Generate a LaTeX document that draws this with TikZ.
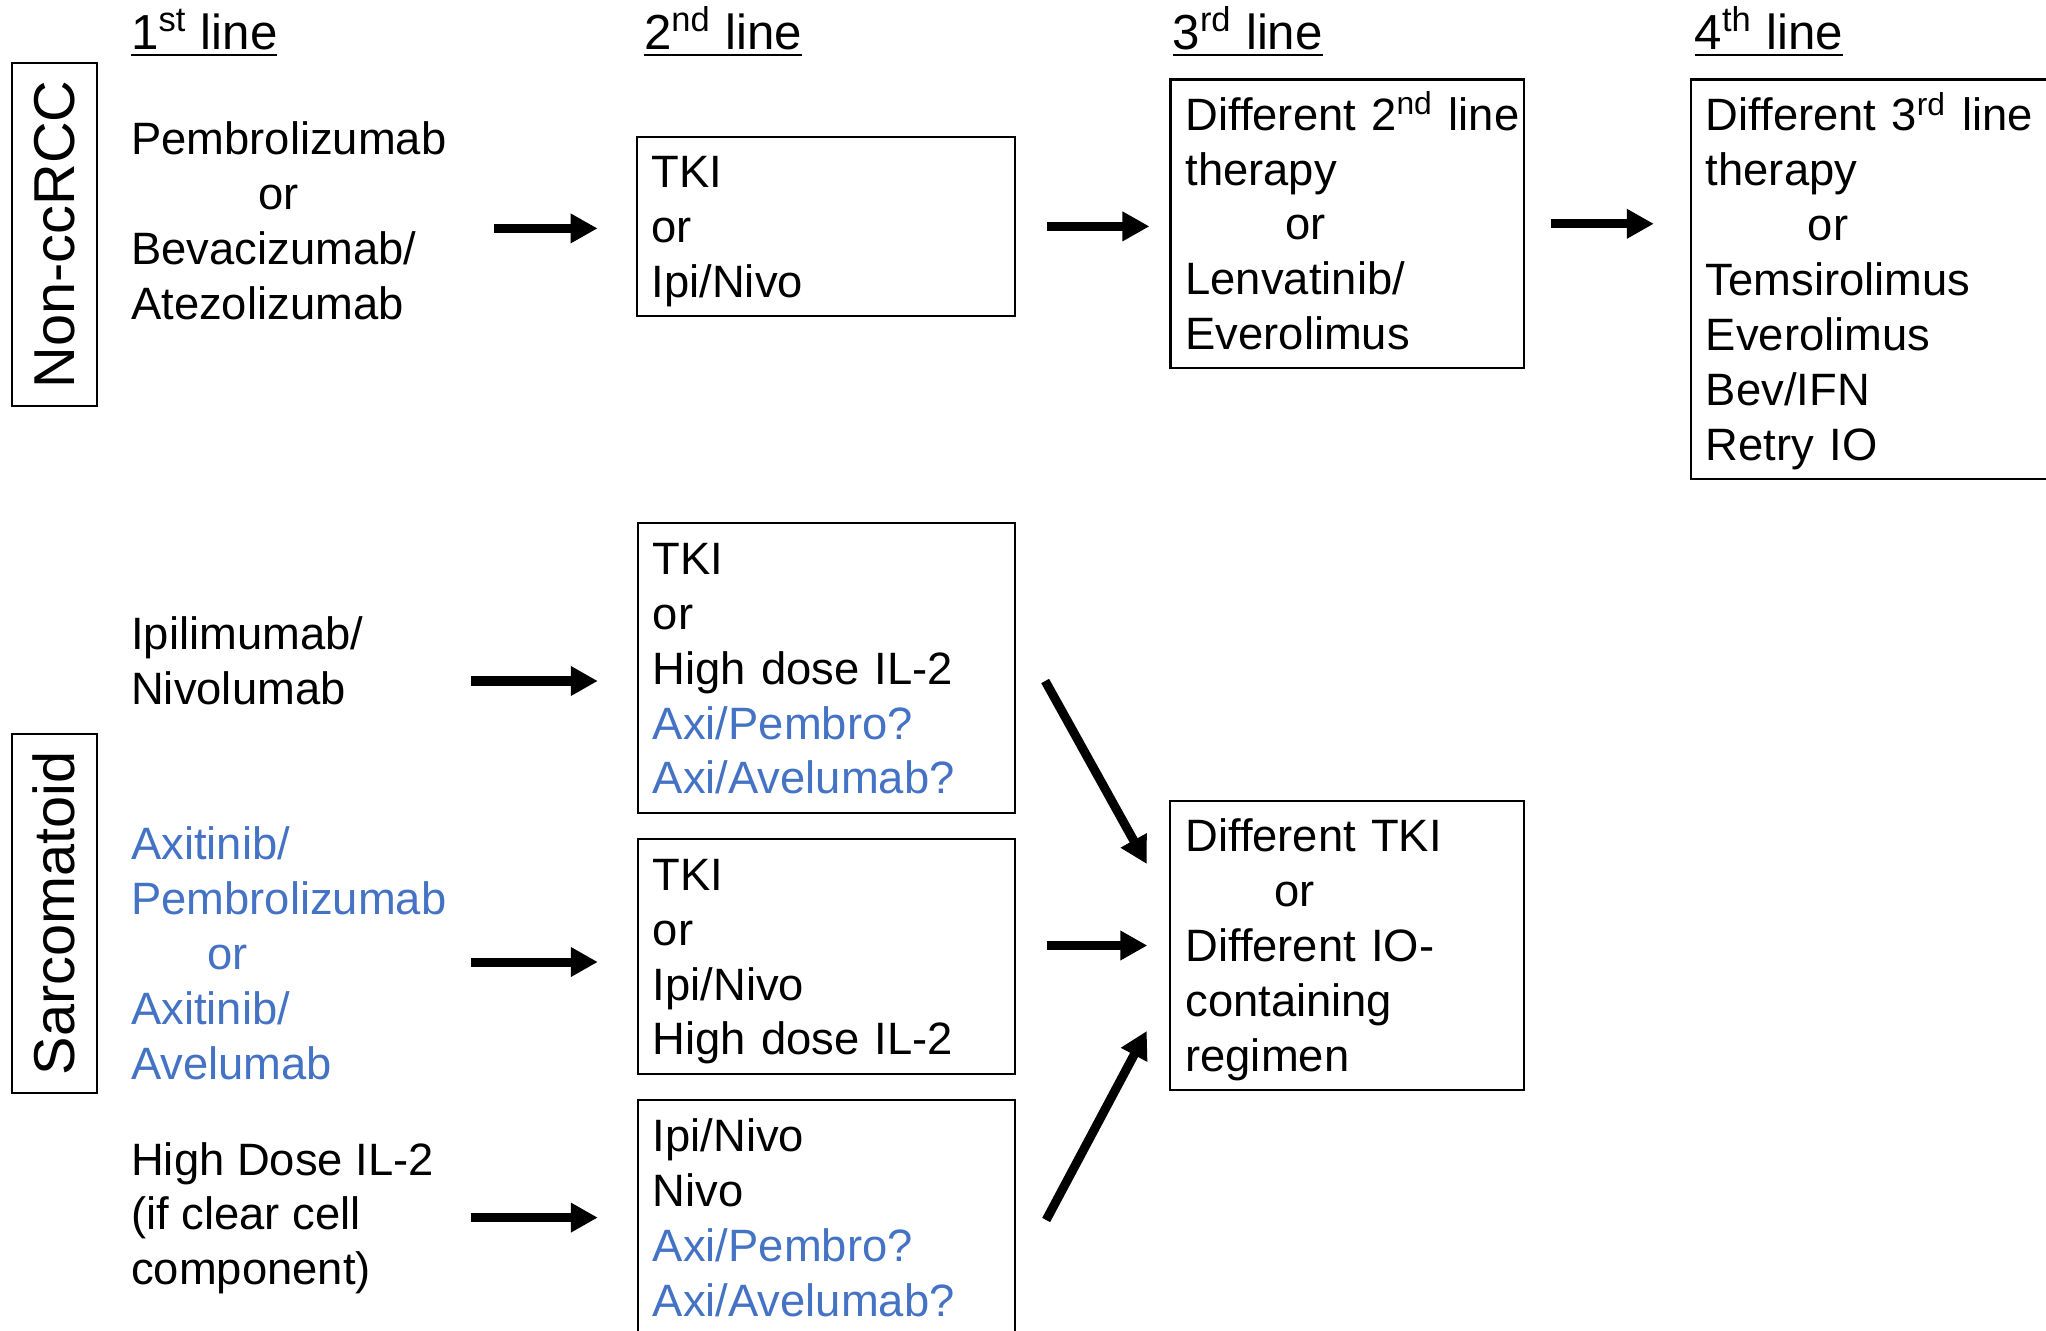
\documentclass[tikz,border=0pt]{standalone}
\usepackage{fontspec}
\setmainfont{Liberation Sans}
\usetikzlibrary{arrows.meta}

\definecolor{axiblue}{HTML}{4472C4}
\newcommand{\bodyfont}{\fontsize{12.9}{15.6}\selectfont}
\newcommand{\ax}[1]{\textcolor{axiblue}{#1}}
% struts for first and last line, so the text sits centred in its box
\newcommand{\topstrut}{\rule{0pt}{12.9pt}}
\newcommand{\botstrut}{\rule[-3.7pt]{0pt}{3.7pt}}

\tikzset{
  therapy/.style={draw, line width=0.6pt, align=left, inner xsep=0.15cm, inner ysep=0pt, font=\bodyfont},
  firstline/.style={anchor=west, inner sep=0pt, align=left, font=\bodyfont},
  heading/.style={anchor=base west, inner sep=0pt, font=\fontsize{14}{17}\selectfont},
  cohort/.style={draw, line width=0.6pt, rotate=90, minimum height=0.85cm, inner sep=0pt, font=\fontsize{16.4}{19}\selectfont},
  arr/.style={-{Triangle[length=0.27cm,width=0.28cm]}, line width=0.09cm},
}

\begin{document}
\begin{tikzpicture}[x=0.01cm, y=-0.01cm]
\useasboundingbox (0,0) rectangle (2046,1331);
\clip (0,0) rectangle (2046,1331);

% column headings
\node[heading] (h1) at (130.5,49.6) {\underline{1\textsuperscript{st} line}};
\node[heading] (h2) at (643.4,49.6) {\underline{2\textsuperscript{nd} line}};
\node[heading] (h3) at (1171.9,49.6) {\underline{3\textsuperscript{rd} line}};
\node[heading] (h4) at (1693.9,49.6) {\underline{4\textsuperscript{th} line}};

% cohorts
\node[cohort, minimum width=3.43cm] (noncc) at (54.2,234.3) {Non-ccRCC};
\node[cohort, minimum width=3.58cm] (sarc) at (54.2,913.5) {Sarcomatoid};

% non-ccRCC row
\node[firstline] (t1) at (130.5,220.6) {\topstrut Pembrolizumab\\\hspace*{1.27cm}or\\Bevacizumab/\\Atezolizumab\botstrut};
\node[therapy, text width=3.485cm, minimum height=1.788cm] (b2nd) at (826,226.4) {\topstrut TKI\\or\\Ipi/Nivo\botstrut};
\node[therapy, text width=3.236cm, minimum height=2.884cm] (b3rd) at (1347.4,223.8)
  {\topstrut\mbox{Different 2\textsuperscript{nd} line}\\therapy\\\hspace*{1cm}or\\Lenvatinib/\\Everolimus\botstrut};
\node[therapy, text width=3.49cm, minimum height=3.994cm] (b4th) at (1880.5,279.3)
  {\topstrut\mbox{Different 3\textsuperscript{rd} line}\\therapy\\\hspace*{1.02cm}or\\Temsirolimus\\Everolimus\\Bev/IFN\\Retry IO\botstrut};

\coordinate (p1) at (494,228.4);
\draw[arr, shorten >=0.38cm] (p1) -- (p1 -| b2nd.west);
\draw[arr, shorten <=0.31cm, shorten >=0.2cm] (b2nd.east) -- (b2nd.east -| b3rd.west);
\draw[arr, shorten <=0.26cm, shorten >=0.36cm] (b3rd.east) -- (b3rd.east -| b4th.west);

% sarcomatoid rows
\node[firstline] (tA) at (130.5,661) {\topstrut Ipilimumab/\\Nivolumab\botstrut};
\node[firstline] (tB) at (130.5,953.3) {\color{axiblue}\topstrut Axitinib/\\\color{axiblue}Pembrolizumab\\\color{axiblue}\hspace*{0.76cm}or\\\color{axiblue}Axitinib/\\\color{axiblue}Avelumab\botstrut};
\node[firstline] (tC) at (130.5,1213.7) {\topstrut High Dose IL-2\\(if clear cell\\component)\botstrut};

\node[therapy, text width=3.47cm, minimum height=2.9cm] (bA) at (826.5,668)
  {\topstrut TKI\\or\\High dose IL-2\\\ax{Axi/Pembro?}\\\ax{Axi/Avelumab?}\botstrut};
\node[therapy, text width=3.47cm, minimum height=2.35cm] (bB) at (826.5,956.5)
  {\topstrut TKI\\or\\Ipi/Nivo\\High dose IL-2\botstrut};
\node[therapy, text width=3.47cm, minimum height=2.35cm] (bC) at (826.5,1217.6)
  {\topstrut Ipi/Nivo\\Nivo\\\ax{Axi/Pembro?}\\\ax{Axi/Avelumab?}\botstrut};
\node[therapy, text width=3.236cm, minimum height=2.89cm] (bD) at (1347.3,945.5)
  {\topstrut Different TKI\\\hspace*{0.89cm}or\\Different IO-\\containing\\regimen\botstrut};

\coordinate (pA) at (471,681);
\coordinate (pB) at (471,962);
\coordinate (pC) at (471,1217.6);
\draw[arr, shorten >=0.39cm] (pA) -- (pA -| bA.west);
\draw[arr, shorten >=0.39cm] (pB) -- (pB -| bB.west);
\draw[arr, shorten >=0.39cm] (pC) -- (pC -| bC.west);

\draw[arr] ([shift={(29,13)}]bA.east) -- ([shift={(-22.6,-81.5)}]bD.west);
\draw[arr, shorten <=0.31cm, shorten >=0.22cm] (bB.east |- bD.west) -- (bD.west);
\draw[arr] ([shift={(30,2.4)}]bC.east) -- ([shift={(-22.6,85.5)}]bD.west);
\end{tikzpicture}
\end{document}
